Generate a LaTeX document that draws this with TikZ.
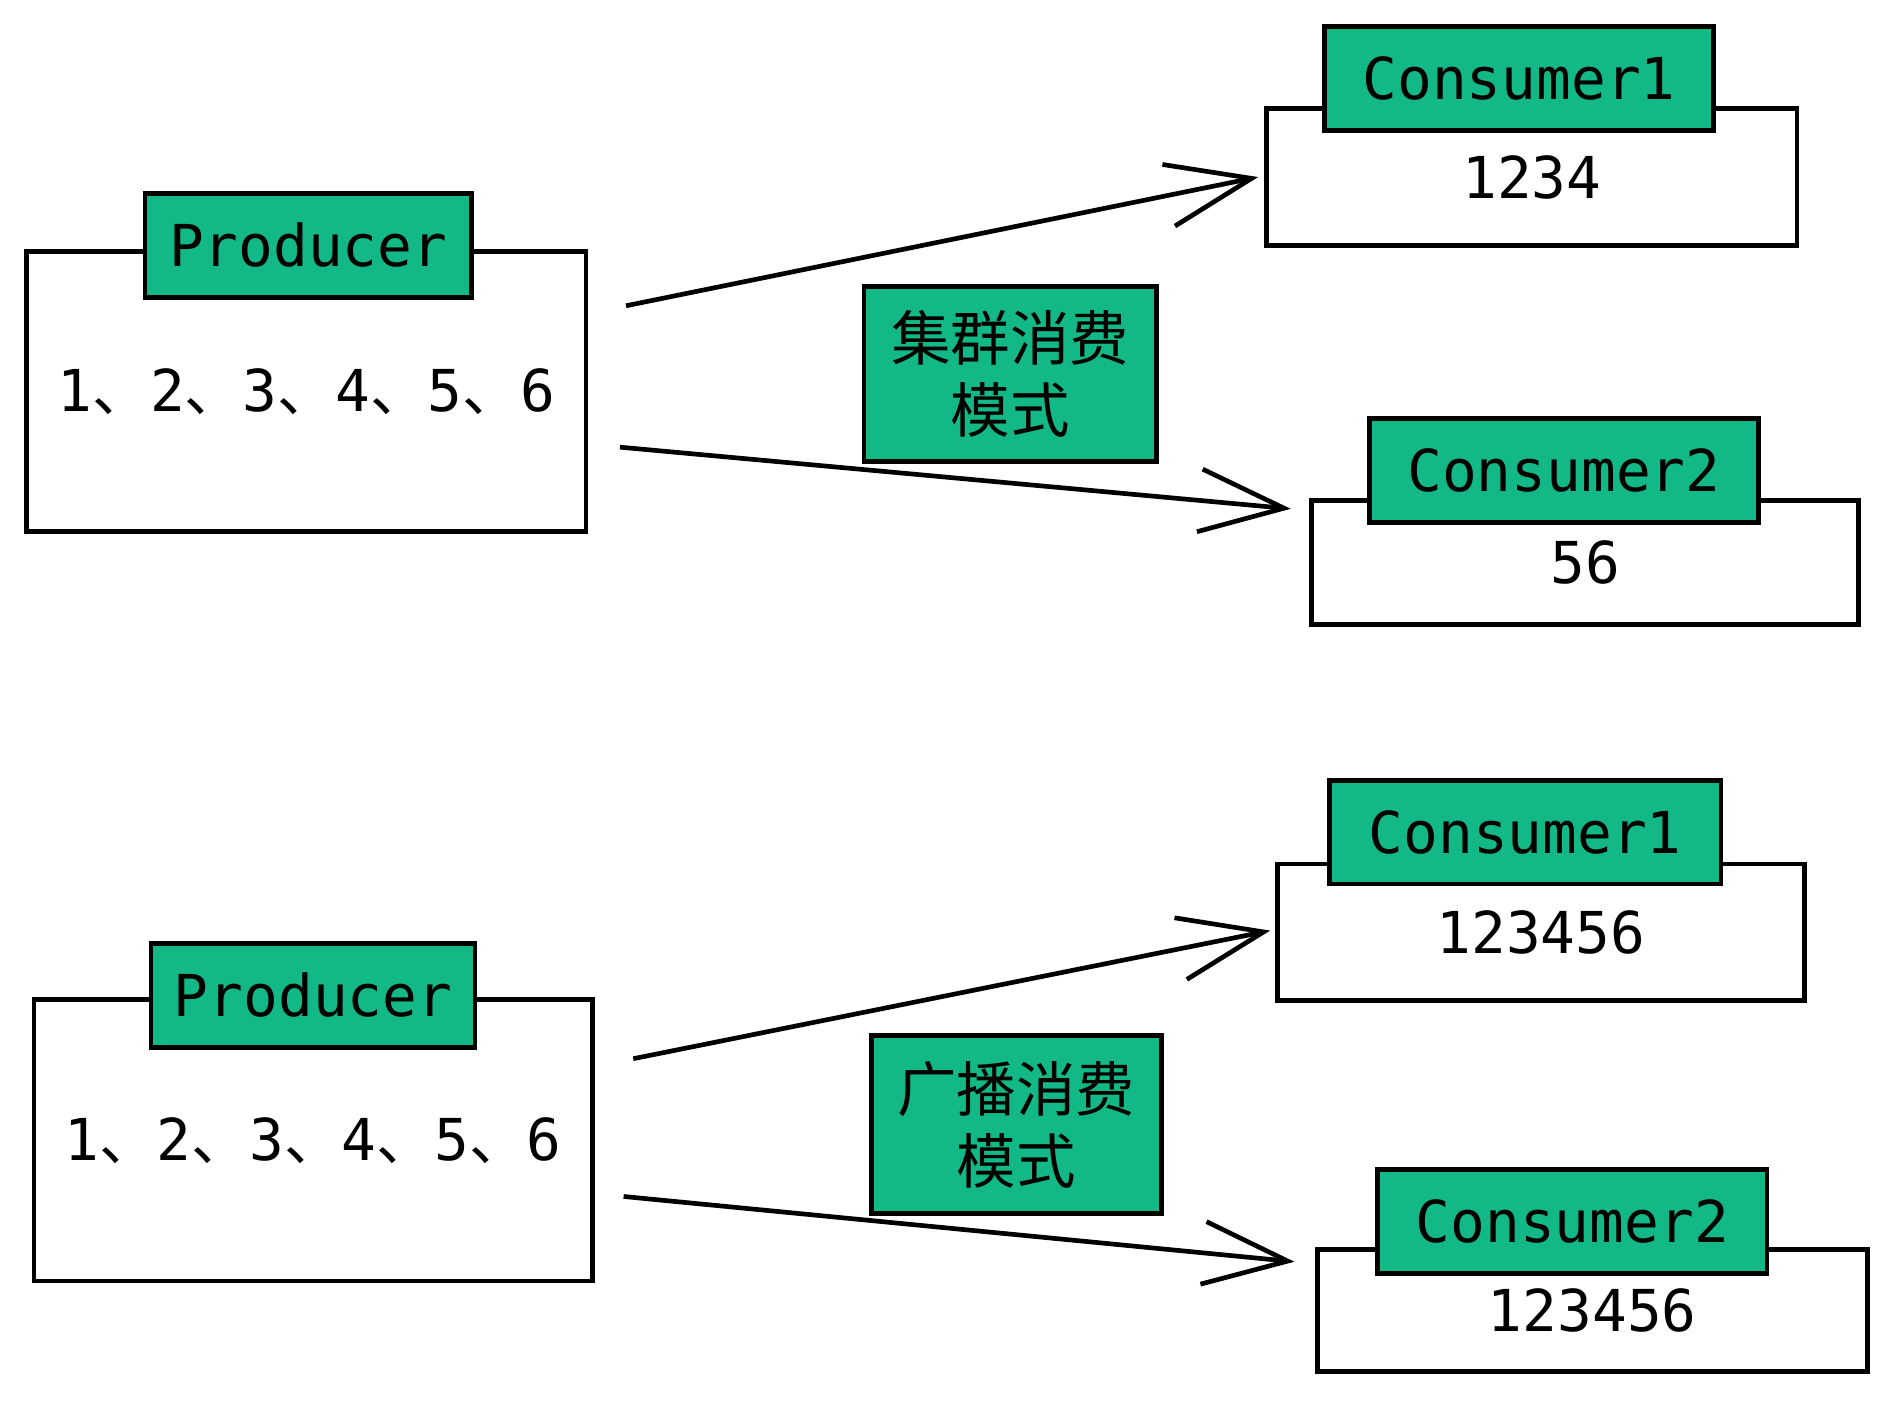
\documentclass[tikz,border=0pt]{standalone}
\usepackage{fontspec}
\setmonofont{DejaVu Sans Mono}
\newfontfamily\cjk{Noto Sans CJK SC}
\usetikzlibrary{arrows.meta,positioning}

\definecolor{taggreen}{HTML}{12B886}
\newcommand\dun{{\cjk 、}}

\tikzset{
  outerbox/.style={draw, line width=1.1pt, inner sep=0pt, font=\fontsize{13.6}{16}\selectfont\ttfamily},
  tagbox/.style={draw, fill=taggreen, line width=1.1pt, inner sep=0pt, minimum height=0.86cm, font=\fontsize{13.6}{16}\selectfont\ttfamily},
  modebox/.style={draw, fill=taggreen, line width=1.1pt, inner sep=0pt, minimum width=2.42cm, minimum height=1.45cm, align=center, font=\fontsize{14}{17}\selectfont\cjk},
  flow/.style={-{Straight Barb[length=7mm,width=5.2mm]}, line width=1.1pt}
}

\begin{document}
\begin{tikzpicture}

    \useasboundingbox (0,0) rectangle (15.68,-11.60);

    % cluster mode
    \node[outerbox, minimum width=4.63cm, minimum height=2.32cm] (prod1) at (2.535,-3.24) {1\dun 2\dun 3\dun 4\dun 5\dun 6};
    \node[tagbox, minimum width=2.70cm] (prodtag1) at ([shift={(0.015,0.03)}]prod1.north) {Producer};

    \node[outerbox, minimum width=4.39cm, minimum height=1.13cm] (con1) at (12.675,-1.465) {1234};
    \node[tagbox, minimum width=3.22cm] (contag1) at ([shift={(-0.105,0.23)}]con1.north) {Consumer1};

    \node[outerbox, minimum width=4.53cm, minimum height=1.03cm] (con2) at (13.115,-4.655) {56};
    \node[tagbox, minimum width=3.22cm] (contag2) at ([shift={(-0.175,0.23)}]con2.north) {Consumer2};

    \node[modebox] (mode1) at (8.36,-3.095) {集群消费\\模式};

    \coordinate (s1) at (5.18,-2.53);
    \coordinate (s2) at (5.13,-3.70);
    \coordinate (e2) at (10.68,-4.21);

    \draw[flow] (s1) -- ([xshift=-0.05cm]con1.west);
    \draw[flow] (s2) -- (e2);

    % broadcast mode
    \node[outerbox, minimum width=4.62cm, minimum height=2.33cm] (prod2) at (2.59,-9.435) {1\dun 2\dun 3\dun 4\dun 5\dun 6};
    \node[tagbox, minimum width=2.68cm] (prodtag2) at ([shift={(0.0,0.015)}]prod2.north) {Producer};

    \node[outerbox, minimum width=4.36cm, minimum height=1.13cm] (con3) at (12.75,-7.715) {123456};
    \node[tagbox, minimum width=3.24cm] (contag3) at ([shift={(-0.13,0.245)}]con3.north) {Consumer1};

    \node[outerbox, minimum width=4.55cm, minimum height=1.01cm] (con4) at (13.175,-10.845) {123456};
    \node[tagbox, minimum width=3.22cm] (contag4) at ([shift={(-0.165,0.215)}]con4.north) {Consumer2};

    \node[modebox, minimum width=2.40cm, minimum height=1.47cm] (mode2) at (8.41,-9.305) {广播消费\\模式};

    \coordinate (s3) at (5.24,-8.76);
    \coordinate (e3) at (10.51,-7.70);
    \coordinate (s4) at (5.16,-9.90);
    \coordinate (e4) at (10.71,-10.44);

    \draw[flow] (s3) -- (e3);
    \draw[flow] (s4) -- (e4);

\end{tikzpicture}
\end{document}
